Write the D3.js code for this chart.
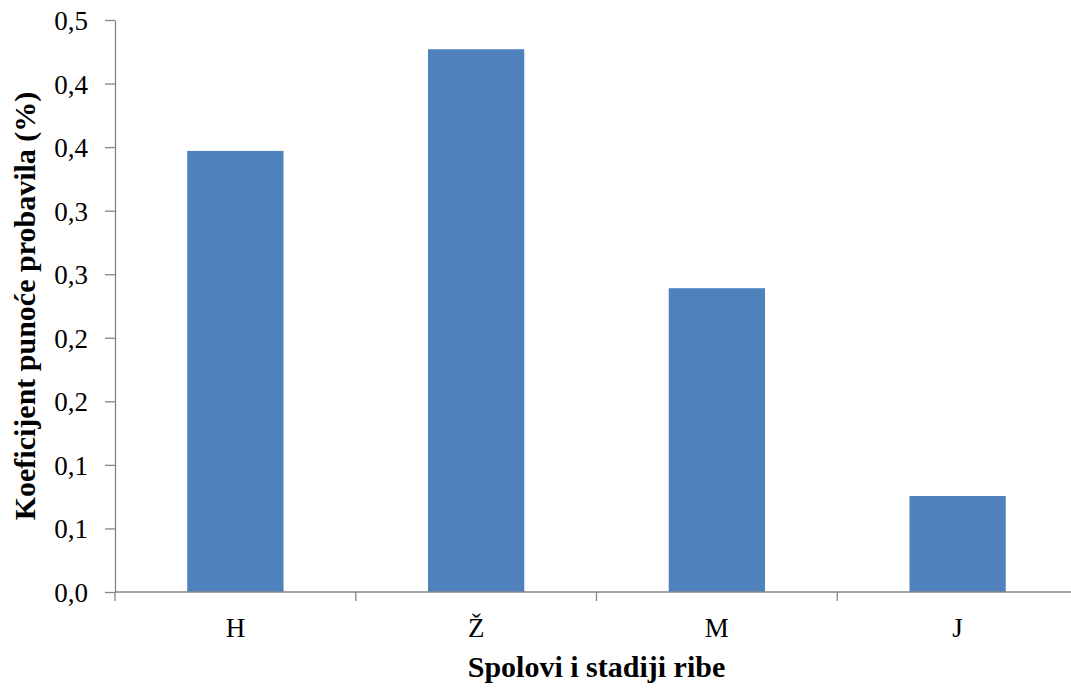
<!DOCTYPE html>
<html>
<head>
<meta charset="utf-8">
<script src="https://cdn.jsdelivr.net/npm/d3@7"></script>
<style>
  body { margin: 0; background: #fff; }
  text { font-family: "Liberation Serif", "Times New Roman", serif; fill: #000; }
</style>
</head>
<body>
<div id="chart"></div>
<script>
const categories = ["H", "Ž", "M", "J"];
const values = [0.347, 0.427, 0.239, 0.0755];
const tickValues = [0, 0.05, 0.1, 0.15, 0.2, 0.25, 0.3, 0.35, 0.4, 0.45];
const tickLabels = ["0,0", "0,1", "0,1", "0,2", "0,2", "0,3", "0,3", "0,4", "0,4", "0,5"];

const dim = {width: 1071, height: 690};
const plot = {left: 115, right: 1078, top: 20, bottom: 592};

const svg = d3.select('#chart').append('svg')
    .attr('width', dim.width)
    .attr('height', dim.height);

const x = d3.scaleBand()
    .domain(categories)
    .range([plot.left, plot.right])
    .paddingInner(0.6)
    .paddingOuter(0.3);

const y = d3.scaleLinear()
    .domain([0, 0.45])
    .range([plot.bottom, plot.top]);

// bars
svg.selectAll('rect.bar')
    .data(values)
    .enter()
    .append('rect')
    .attr('class', 'bar')
    .attr('x', (d, i) => x(categories[i]))
    .attr('y', d => y(d))
    .attr('width', x.bandwidth())
    .attr('height', d => y(0) - y(d))
    .attr('fill', '#4f81bd');

// y axis
const yAxis = svg.append('g')
    .attr('transform', `translate(${plot.left},0)`)
    .call(d3.axisLeft(y)
        .tickValues(tickValues)
        .tickFormat((d, i) => tickLabels[i])
        .tickSizeInner(10)
        .tickSizeOuter(0)
        .tickPadding(17));
yAxis.selectAll('text')
    .style('font-size', '27px')
    .attr('dy', '0.35em');

// x axis: ticks sit on band boundaries
const bounds = categories.map(c => x(c) - x.step() * x.paddingOuter()).concat([plot.right]);
const xAxisG = svg.append('g')
    .attr('transform', `translate(0,${plot.bottom})`);
xAxisG.append('line')
    .attr('x1', plot.left).attr('x2', plot.right)
    .attr('stroke', '#868686').attr('stroke-width', 1.3);
xAxisG.selectAll('line.tick')
    .data(bounds)
    .enter()
    .append('line')
    .attr('class', 'tick')
    .attr('x1', d => d).attr('x2', d => d)
    .attr('y1', 0).attr('y2', 9)
    .attr('stroke', '#868686').attr('stroke-width', 1.3);
xAxisG.selectAll('text')
    .data(categories)
    .enter()
    .append('text')
    .attr('x', d => x(d) + x.bandwidth() / 2)
    .attr('y', 45)
    .attr('text-anchor', 'middle')
    .style('font-size', '27px')
    .text(d => d);

yAxis.select('.domain').attr('stroke', '#868686').attr('stroke-width', 1.3);
yAxis.selectAll('.tick line').attr('stroke', '#868686').attr('stroke-width', 1.3);

// titles
svg.append('text')
    .attr('x', (plot.left + plot.right) / 2)
    .attr('y', 677)
    .attr('text-anchor', 'middle')
    .style('font-size', '30px')
    .style('font-weight', 'bold')
    .text('Spolovi i stadiji ribe');

svg.append('text')
    .attr('transform', `translate(35,${(plot.top + plot.bottom) / 2}) rotate(-90)`)
    .attr('text-anchor', 'middle')
    .style('font-size', '30px')
    .style('font-weight', 'bold')
    .text('Koeficijent punoće probavila (%)');
</script>
</body>
</html>
